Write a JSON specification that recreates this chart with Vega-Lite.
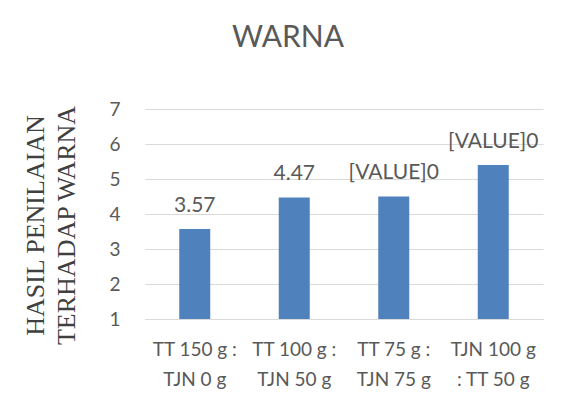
{
  "$schema": "https://vega.github.io/schema/vega-lite/v6.json",
  "autosize": "none",
  "width": 398,
  "height": 210,
  "padding": {"left": 145, "top": 109, "right": 21, "bottom": 89},
  "background": "white",
  "config": {"view": {"stroke": null}, "font": "Lato"},
  "title": {"text": "WARNA", "fontSize": 30, "font": "Lato", "fontWeight": "normal", "color": "#595959", "offset": 47, "dx": -56},
  "data": {"values": [
    {"k": "TT 150 g :|TJN 0 g", "v": 3.57, "lbl": "3.57"},
    {"k": "TT 100 g :|TJN 50 g", "v": 4.47, "lbl": "4.47"},
    {"k": "TT 75 g :|TJN 75 g", "v": 4.5, "lbl": "[VALUE]0"},
    {"k": "TJN 100 g|: TT 50 g", "v": 5.4, "lbl": "[VALUE]0"}
  ]},
  "encoding": {
    "x": {"field": "k", "type": "nominal", "sort": null, "scale": {"paddingInner": 0, "paddingOuter": 0},
      "axis": {"title": null, "labelAngle": 0, "labelExpr": "split(datum.label, '|')", "labelFontSize": 19, "labelLineHeight": 30, "labelColor": "#595959", "labelPadding": 21, "ticks": false, "domainColor": "#d9d9d9", "labelFont": "Lato"}},
    "y": {"field": "v", "type": "quantitative", "scale": {"domain": [1, 7], "zero": false, "nice": false},
      "axis": {"values": [1, 2, 3, 4, 5, 6, 7], "domain": false, "ticks": false, "gridColor": "#d9d9d9", "labelFontSize": 19, "labelColor": "#595959", "labelPadding": 25, "labelFont": "Lato",
        "title": ["HASIL  PENILAIAN", "TERHADAP WARNA"], "titleFont": "Liberation Serif", "titleFontSize": 26, "titleFontWeight": "normal", "titleColor": "#404040", "titleLineHeight": 31, "titlePadding": 29, "titleY": 116}}
  },
  "layer": [
    {"mark": {"type": "bar", "color": "#4f81bd", "width": 31}, "encoding": {"y2": {"datum": 1}}},
    {"mark": {"type": "text", "fontSize": 21, "color": "#595959", "baseline": "alphabetic", "dy": -17.5, "font": "Lato"}, "encoding": {"text": {"field": "lbl"}}}
  ]
}
